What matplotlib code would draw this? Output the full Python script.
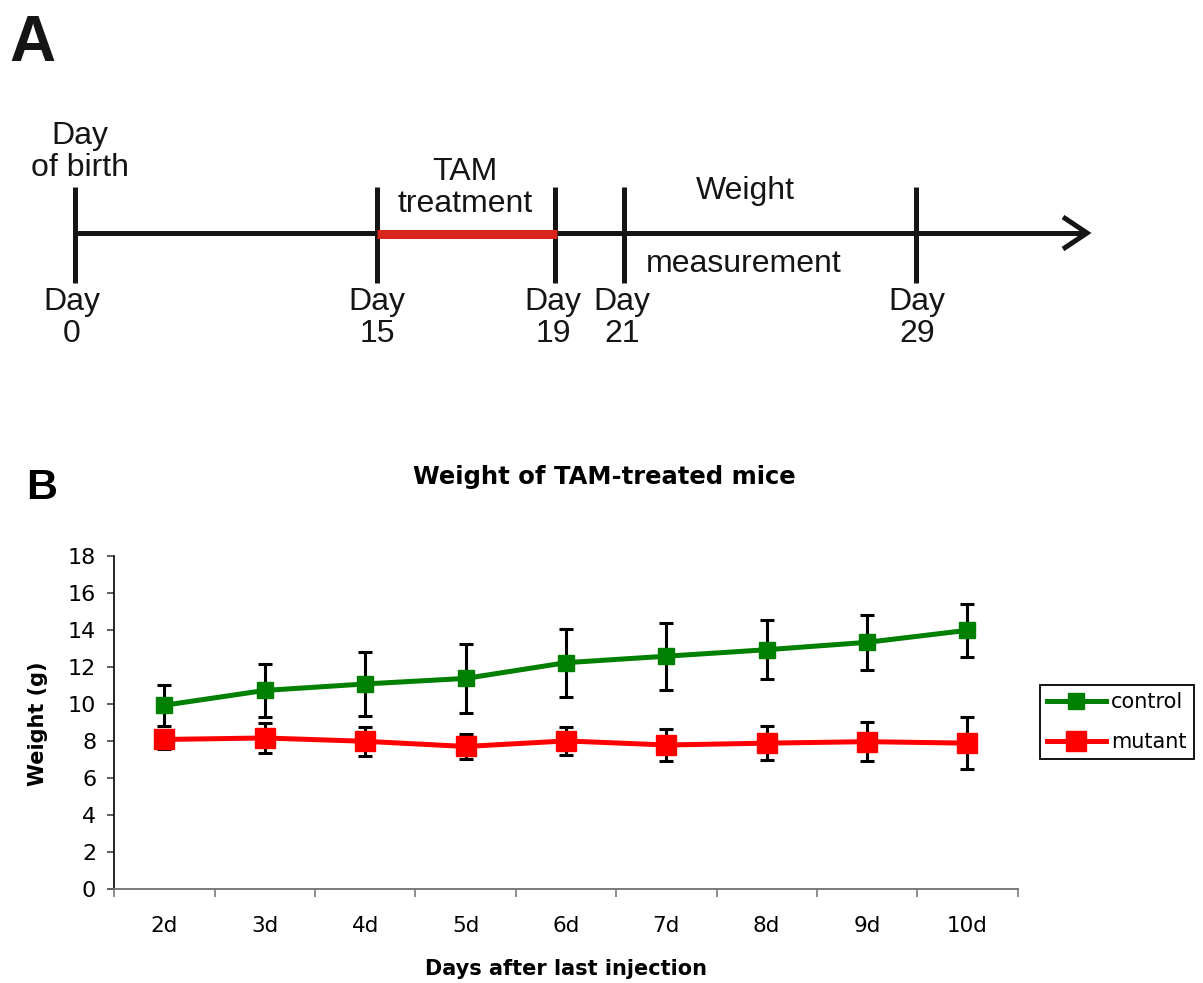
import matplotlib
matplotlib.use("Agg")
import matplotlib.pyplot as plt
import numpy as np

plt.rcParams["font.family"] = ["DejaVu Sans"]

# ── Dados ─────────────────────────────────────────────────────────────────────
days_labels = ["2d", "3d", "4d", "5d", "6d", "7d", "8d", "9d", "10d"]
control     = [9.95, 10.75, 11.1, 11.4, 12.25, 12.6, 12.95, 13.35, 14.0]
control_sd  = [1.1, 1.45, 1.72, 1.85, 1.83, 1.8, 1.59, 1.49, 1.43]
mutant      = [8.1, 8.18, 8.0, 7.72, 8.02, 7.8, 7.9, 7.98, 7.9]
mutant_sd   = [0.5, 0.8, 0.8, 0.68, 0.77, 0.88, 0.92, 1.06, 1.39]
y_ticks     = [0, 2, 4, 6, 8, 10, 12, 14, 16, 18]

timeline_days = [0, 15, 19, 21, 29]
tam_start, tam_end = 15, 19

# ── Layout (pixels) ──────────────────────────────────────────────────────────
W, H = 1203, 983
TICK_X   = [75, 377, 555, 624, 916]   # esquema, fora de escala
LINE_Y   = 233
LABEL_X  = [72, 377, 553, 622, 917]

GREEN = "#008000"
RED   = "#FF0000"
INK   = "#151515"
ARIAL = ["Liberation Sans", "DejaVu Sans"]

fig = plt.figure(figsize=(W / 100, H / 100), dpi=100, facecolor="white")

# ── Painel A: linha do tempo ────────────────────────────────────────────────
axa = fig.add_axes([0, 0, 1, 1], zorder=0)
axa.set_xlim(0, W)
axa.set_ylim(H, 0)
axa.axis("off")

axa.plot([TICK_X[0], 1084], [LINE_Y, LINE_Y], color=INK, lw=3.6,
         solid_capstyle="butt")
axa.plot([1063, 1087, 1063], [217, LINE_Y, 249], color=INK, lw=3.6,
         solid_joinstyle="miter", solid_capstyle="butt")
for d, tx, lx in zip(timeline_days, TICK_X, LABEL_X):
    axa.plot([tx, tx], [187, 283], color=INK, lw=3.6, solid_capstyle="butt")
    axa.text(lx, 287, f"Day\n{d}", ha="center", va="top", fontsize=23,
             family=ARIAL, color=INK, linespacing=1.1)
x0 = TICK_X[timeline_days.index(tam_start)]
x1 = TICK_X[timeline_days.index(tam_end)]
axa.plot([x0, x1 + 2], [LINE_Y + 1, LINE_Y + 1], color="#D8261C", lw=6.5,
         solid_capstyle="butt", zorder=3)

axa.text(80, 121, "Day\nof birth", ha="center", va="top", fontsize=23,
         family=ARIAL, color=INK, linespacing=1.08)
axa.text(465, 157, "TAM\ntreatment", ha="center", va="top", fontsize=23,
         family=ARIAL, color=INK, linespacing=1.1)
axa.text(745, 176, "Weight", ha="center", va="top", fontsize=23,
         family=ARIAL, color=INK)
axa.text(744, 249, "measurement", ha="center", va="top", fontsize=23,
         family=ARIAL, color=INK)

axa.text(9, 61, "A", ha="left", va="baseline", fontsize=46,
         fontweight="bold", family=ARIAL, color=INK)
axa.text(26, 499, "B", ha="left", va="baseline", fontsize=31,
         fontweight="bold", family=ARIAL, color="black")

# ── Painel B: peso ───────────────────────────────────────────────────────────
left, right, top, bottom = 114.3, 1017.6, 556.3, 889.3
ax = fig.add_axes([left / W, 1 - bottom / H, (right - left) / W,
                   (bottom - top) / H], zorder=2)
ax.patch.set_alpha(0)

x = np.arange(len(days_labels)) + 0.5
ax.errorbar(x, control, yerr=control_sd, fmt="none", ecolor="black",
            elinewidth=2.2, capsize=4.9, capthick=2.2, zorder=2)
ax.errorbar(x, mutant, yerr=mutant_sd, fmt="none", ecolor="black",
            elinewidth=2.2, capsize=4.9, capthick=2.2, zorder=2)
ax.plot(x, control, color=GREEN, lw=3.6, marker="s", ms=11.3,
        mec=GREEN, mfc=GREEN, zorder=3, label="control")
ax.plot(x, mutant, color=RED, lw=3.6, marker="s", ms=15,
        mec=RED, mfc=RED, zorder=3, label="mutant")

ax.set_xlim(0, len(days_labels))
ax.set_ylim(0, 18)
ax.set_yticks(y_ticks)
ax.set_yticklabels([str(v) for v in y_ticks])
ax.set_xticks(np.arange(len(days_labels) + 1))
ax.set_xticklabels([])
ax.set_xticks(x, minor=True)
ax.set_xticklabels(days_labels, minor=True)

ax.spines["top"].set_visible(False)
ax.spines["right"].set_visible(False)
ax.spines["left"].set_color("black")
ax.spines["left"].set_linewidth(1.2)
ax.spines["bottom"].set_color("#7a7a7a")
ax.spines["bottom"].set_linewidth(1.4)

ax.tick_params(axis="y", direction="out", length=5, width=1.1,
               colors="#333333", labelcolor="black", labelsize=16, pad=8)
ax.tick_params(axis="x", which="major", direction="out", length=6,
               width=1.2, colors="#7a7a7a")
ax.tick_params(axis="x", which="minor", length=0, labelsize=15.5,
               labelcolor="black", pad=19)

fig.text(604 / W, 1 - 477 / H, "Weight of TAM-treated mice", ha="center",
         va="center", fontsize=17.5, fontweight="bold")
fig.text(38 / W, 1 - 724 / H, "Weight (g)", ha="center", va="center",
         rotation=90, fontsize=15, fontweight="bold")
fig.text(566 / W, 1 - 969 / H, "Days after last injection", ha="center",
         va="center", fontsize=15, fontweight="bold")

leg = ax.legend(loc="upper left", bbox_to_anchor=(1040 / W, 1 - 685 / H),
                bbox_transform=fig.transFigure, borderaxespad=0,
                fontsize=15, handlelength=2.8, handletextpad=0.25,
                borderpad=0.35, labelspacing=0.95, numpoints=1,
                fancybox=False, framealpha=1, edgecolor="black")
leg.get_frame().set_linewidth(1.3)

fig.savefig("out.png", dpi=100, facecolor="white")
plt.close(fig)
